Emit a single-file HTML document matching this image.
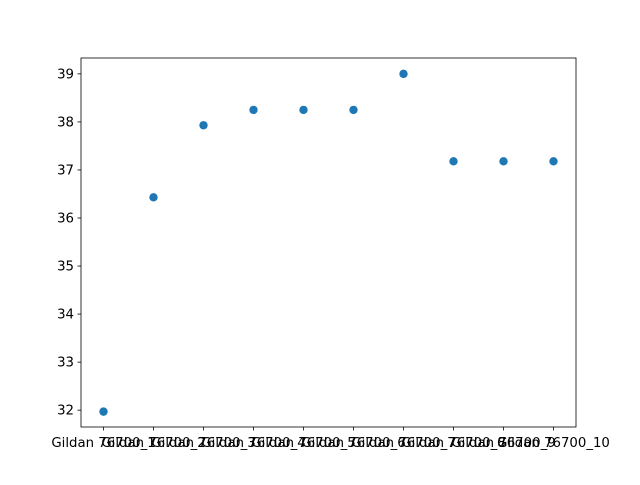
<!DOCTYPE html>
<html><head><meta charset="utf-8"><style>
body{margin:0;background:#fff;}
svg text{font-family:"DejaVu Sans","Liberation Sans",sans-serif;font-size:13.3px;fill:#000;}
</style></head><body>
<svg id="chart" width="640" height="480" xmlns="http://www.w3.org/2000/svg">
<rect width="640" height="480" fill="#fff"/>
<g id="plot"></g>
</svg>
<script>
const categories=["Gildan 76700_1","Gildan 76700_2","Gildan 76700_3","Gildan 76700_4","Gildan 76700_5","Gildan 76700_6","Gildan 76700_7","Gildan 76700_8","Gildan 76700_9","Gildan 76700_10"];
const values=[31.97,36.43,37.93,38.25,38.25,38.25,39.0,37.18,37.18,37.18];
const yTicks=[32,33,34,35,36,37,38,39];
const L=81,R=576,T=58,B=427;
const xmin=-0.45,xmax=9.45,ymin=31.65,ymax=39.33;
function xs(i){return L+(i-xmin)/(xmax-xmin)*(R-L);}
function ys(v){return B-(v-ymin)/(ymax-ymin)*(B-T);}
const g=document.getElementById('plot');
const NS="http://www.w3.org/2000/svg";
function mk(t,a){const e=document.createElementNS(NS,t);for(const k in a)e.setAttribute(k,a[k]);g.appendChild(e);return e;}
yTicks.forEach(v=>{
 const y=ys(v);
 const tk=mk('line',{x1:L-3.5,x2:L,y1:y,y2:y,stroke:'#000','stroke-width':0.8});
 
 
 const t=mk('text',{x:L-7,y:y+4.5,'text-anchor':'end'});
 t.textContent=v;
 
 
});
categories.forEach((c,i)=>{
 const x=xs(i);
 const tk=mk('line',{x1:x,x2:x,y1:B,y2:B+3.5,stroke:'#000','stroke-width':0.8});
 
 
 const t=mk('text',{x:x,y:B+20,'text-anchor':'middle'});
 t.textContent=c;
 
 
});
values.forEach((v,i)=>{
 const p=mk('circle',{cx:xs(i),cy:ys(v),r:4.2,fill:'#1f77b4'});
 
 
});
const fr=mk('rect',{x:L,y:T,width:R-L,height:B-T,fill:'none',stroke:'#000','stroke-width':0.8});


</script>
</body></html>
